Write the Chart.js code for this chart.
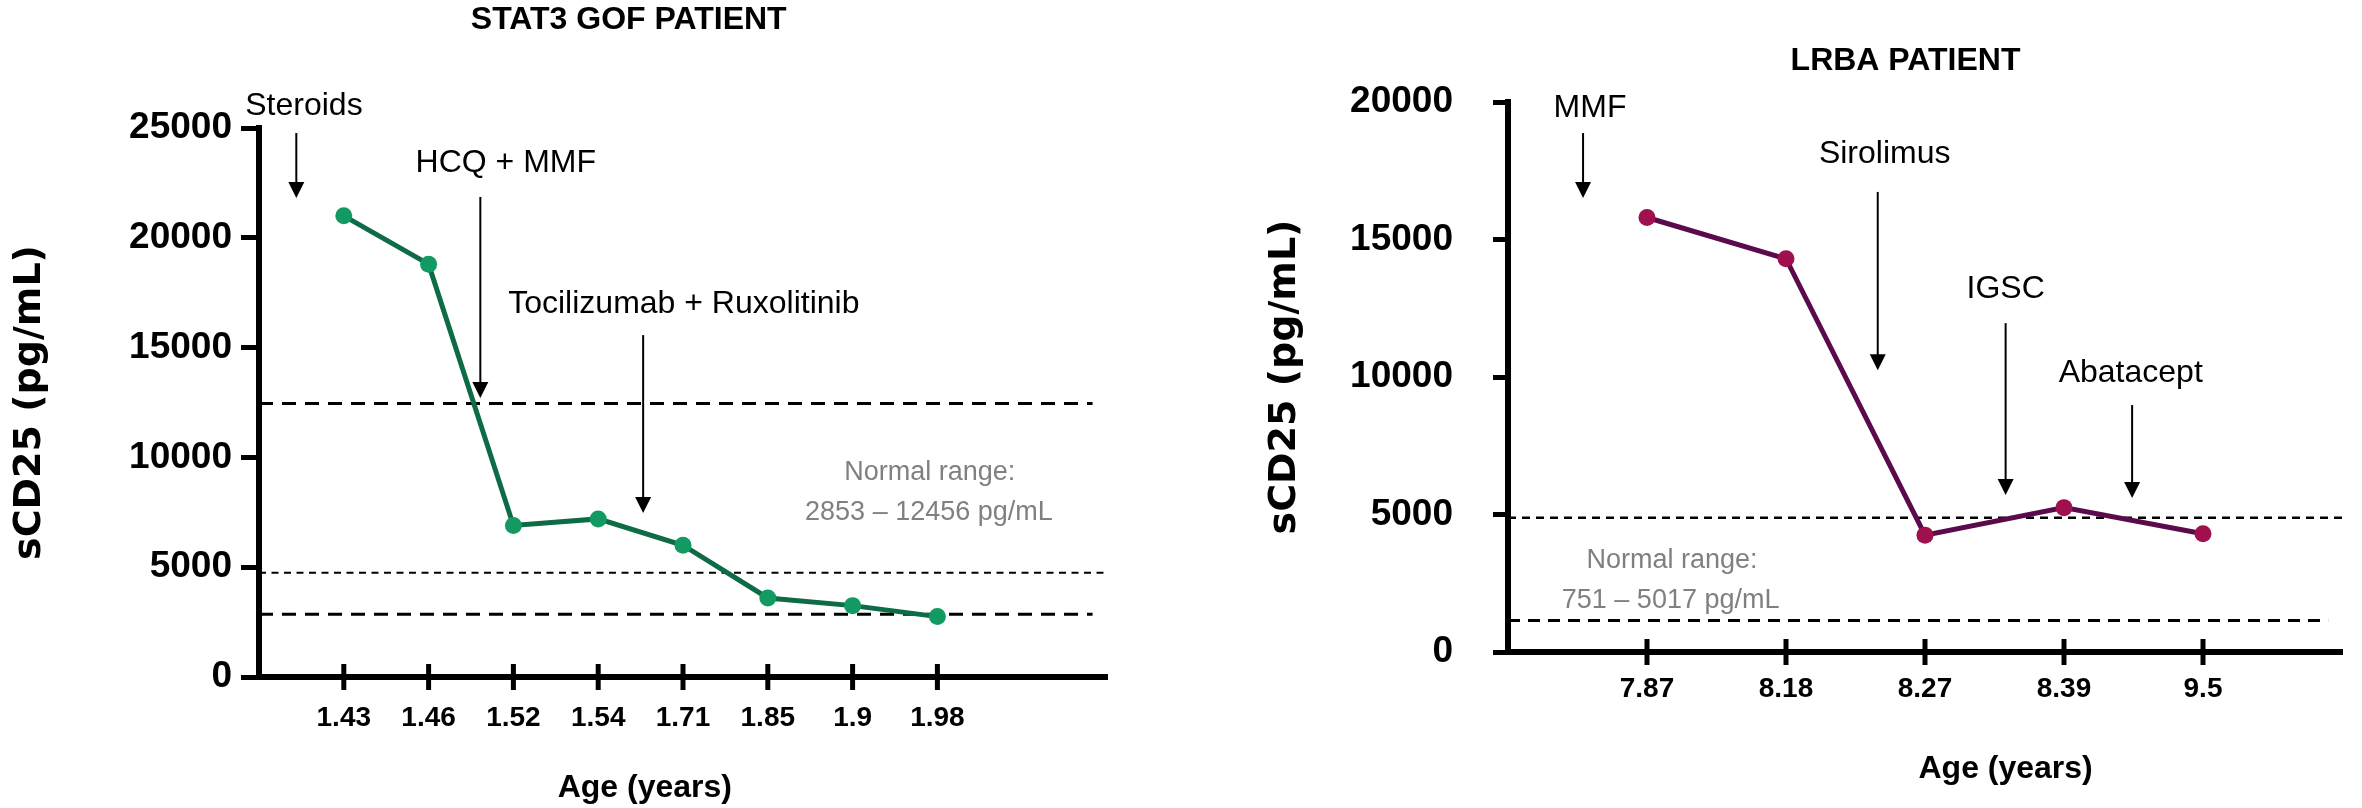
<!DOCTYPE html>
<html>
<head>
<meta charset="utf-8">
<script src="https://cdn.jsdelivr.net/npm/chart.js@4.4.1/dist/chart.umd.min.js"></script>
<style>
  html, body { margin: 0; padding: 0; background: #fff; }
  .panel { position: absolute; top: 0; width: 1181px; height: 808px; }
  #leftPanel { left: 0; }
  #rightPanel { left: 1181px; }
</style>
</head>
<body>
<div class="panel" id="leftPanel"><canvas id="stat3Chart"></canvas></div>
<div class="panel" id="rightPanel"><canvas id="lrbaChart"></canvas></div>
<script>
// STAT3 GOF patient
var stat3Ages = ['1.43', '1.46', '1.52', '1.54', '1.71', '1.85', '1.9', '1.98'];
var stat3Scd25 = [21000, 18800, 6900, 7200, 6000, 3600, 3250, 2750];
var stat3RangeHigh = 12456;
var stat3RangeMid = 4750;
var stat3RangeLow = 2853;

// LRBA patient
var lrbaAges = ['7.87', '8.18', '8.27', '8.39', '9.5'];
var lrbaScd25 = [15800, 14300, 4250, 5250, 4300];
var lrbaRangeHigh = 4880;
var lrbaRangeLow = 1150;

var SANS = "'Liberation Sans', Arial, sans-serif";

// arrows, notes and crossing x tick marks
var notesPlugin = {
  id: 'notes',
  afterDraw: function (chart, args, opts) {
    var ctx = chart.ctx, xs = chart.scales.x, ys = chart.scales.y;
    var axisY = ys.getPixelForValue(0);
    ctx.save();
    ctx.strokeStyle = '#000';
    ctx.fillStyle = '#000';
    ctx.lineWidth = 5;
    xs.ticks.forEach(function (t) {
      if (!opts.labels[t.value - 1]) return;
      var px = xs.getPixelForValue(t.value);
      ctx.beginPath();
      ctx.moveTo(px, axisY - 13);
      ctx.lineTo(px, axisY + 13);
      ctx.stroke();
    });
    opts.arrows.forEach(function (a) {
      var x = xs.getPixelForValue(a.x);
      var y0 = ys.getPixelForValue(a.from), y1 = ys.getPixelForValue(a.to);
      ctx.lineWidth = 2;
      ctx.beginPath();
      ctx.moveTo(x, y0);
      ctx.lineTo(x, y1 - 14);
      ctx.stroke();
      ctx.beginPath();
      ctx.moveTo(x - 8, y1 - 16);
      ctx.lineTo(x + 8, y1 - 16);
      ctx.lineTo(x, y1);
      ctx.closePath();
      ctx.fill();
    });
    opts.texts.forEach(function (t) {
      ctx.font = t.font;
      ctx.fillStyle = t.color || '#000';
      ctx.textAlign = 'center';
      ctx.textBaseline = 'alphabetic';
      ctx.fillText(t.text, xs.getPixelForValue(t.x), ys.getPixelForValue(t.y));
    });
    ctx.restore();
  }
};

function refLine(y, xEnd, dash, width) {
  return {
    data: [{ x: 0, y: y }, { x: xEnd, y: y }],
    borderColor: '#000',
    borderWidth: width,
    borderDash: dash,
    pointRadius: 0
  };
}

function makeChart(id, s) {
  return new Chart(document.getElementById(id), {
    type: 'line',
    data: {
      datasets: [{
        data: s.values.map(function (v, i) { return { x: i + 1, y: v }; }),
        borderColor: s.lineColor,
        borderWidth: 5,
        pointRadius: 8.5,
        pointBackgroundColor: s.pointColor,
        pointBorderWidth: 0,
        tension: 0
      }].concat(s.refs)
    },
    options: {
      responsive: true,
      maintainAspectRatio: false,
      animation: false,
      layout: { padding: s.padding },
      plugins: {
        legend: { display: false },
        tooltip: { enabled: false },
        notes: { labels: s.labels, arrows: s.arrows, texts: s.texts }
      },
      scales: {
        x: {
          type: 'linear',
          min: 0,
          max: s.xMax,
          grid: { display: false, drawTicks: false },
          border: { display: true, color: '#000', width: 6 },
          ticks: {
            stepSize: 1,
            autoSkip: false,
            maxRotation: 0,
            color: '#000',
            padding: s.xPad,
            font: { family: SANS, size: 28, weight: 'bold' },
            callback: function (v) { return s.labels[v - 1] || ''; }
          },
          afterFit: function (scale) { scale.height = s.xHeight; }
        },
        y: {
          min: 0,
          max: s.yMax,
          grid: { drawOnChartArea: false, drawTicks: true, tickLength: s.yTick, tickWidth: 5, color: '#000', tickColor: '#000' },
          border: { display: true, color: '#000', width: 6 },
          ticks: {
            stepSize: 5000,
            color: '#000',
            padding: s.yPad,
            font: { family: SANS, size: 37, weight: 'bold' },
            callback: function (v) { return String(v); }
          },
          title: {
            display: true,
            text: 'sCD25 (pg/mL)',
            color: '#000',
            font: { family: "'DejaVu Sans', Verdana, sans-serif", size: 38, weight: 'bold' },
            padding: { top: s.yTitlePad, bottom: 0 }
          },
          afterFit: function (scale) { scale.width = s.yWidth; }
        }
      }
    },
    plugins: [notesPlugin]
  });
}

makeChart('stat3Chart', {
  labels: stat3Ages,
  values: stat3Scd25,
  lineColor: '#0d6b46',
  pointColor: '#129a62',
  refs: [
    refLine(stat3RangeHigh, 9.83, [14, 9], 3),
    refLine(stat3RangeMid, 10, [7, 5.5], 2),
    refLine(stat3RangeLow, 9.83, [14, 9], 3)
  ],
  xMax: 10, yMax: 25000,
  padding: { left: 0, right: 74, top: 128, bottom: 0 },
  xHeight: 131, xPad: 24,
  yWidth: 259, yTick: 18, yPad: 9, yTitlePad: 7,
  arrows: [
    { x: 0.44, from: 24770, to: 21810 },
    { x: 2.61, from: 21860, to: 12700 },
    { x: 4.53, from: 15570, to: 7470 }
  ],
  texts: [
    { text: 'STAT3 GOF PATIENT', x: 4.36, y: 29510, font: 'bold 32px ' + SANS },
    { text: 'Steroids', x: 0.53, y: 25590, font: '32px ' + SANS },
    { text: 'HCQ + MMF', x: 2.91, y: 23000, font: '32px ' + SANS },
    { text: 'Tocilizumab + Ruxolitinib', x: 5.01, y: 16580, font: '32px ' + SANS },
    { text: 'Normal range:', x: 7.91, y: 8970, font: '27px ' + SANS, color: '#808080' },
    { text: '2853 \u2013 12456 pg/mL', x: 7.90, y: 7150, font: '27px ' + SANS, color: '#808080' },
    { text: 'Age (years)', x: 4.55, y: -5465, font: 'bold 32px ' + SANS }
  ]
});

makeChart('lrbaChart', {
  labels: lrbaAges,
  values: lrbaScd25,
  lineColor: '#5b0b4b',
  pointColor: '#a0104e',
  refs: [
    refLine(lrbaRangeHigh, 6, [8, 6], 2.5),
    refLine(lrbaRangeLow, 5.9, [12, 8], 3)
  ],
  xMax: 6, yMax: 20000,
  padding: { left: 0, right: 5, top: 102, bottom: 0 },
  xHeight: 156, xPad: 20,
  yWidth: 327, yTick: 15, yPad: 40, yTitlePad: 81,
  arrows: [
    { x: 0.54, from: 18870, to: 16510 },
    { x: 2.66, from: 16730, to: 10250 },
    { x: 3.58, from: 11960, to: 5710 },
    { x: 4.49, from: 8980, to: 5600 }
  ],
  texts: [
    { text: 'LRBA PATIENT', x: 2.86, y: 21160, font: 'bold 32px ' + SANS },
    { text: 'MMF', x: 0.59, y: 19450, font: '32px ' + SANS },
    { text: 'Sirolimus', x: 2.71, y: 17780, font: '32px ' + SANS },
    { text: 'IGSC', x: 3.58, y: 12870, font: '32px ' + SANS },
    { text: 'Abatacept', x: 4.48, y: 9820, font: '32px ' + SANS },
    { text: 'Normal range:', x: 1.18, y: 3055, font: '27px ' + SANS, color: '#808080' },
    { text: '751 \u2013 5017 pg/mL', x: 1.17, y: 1600, font: '27px ' + SANS, color: '#808080' },
    { text: 'Age (years)', x: 3.58, y: -4580, font: 'bold 32px ' + SANS }
  ]
});
</script>
</body>
</html>
